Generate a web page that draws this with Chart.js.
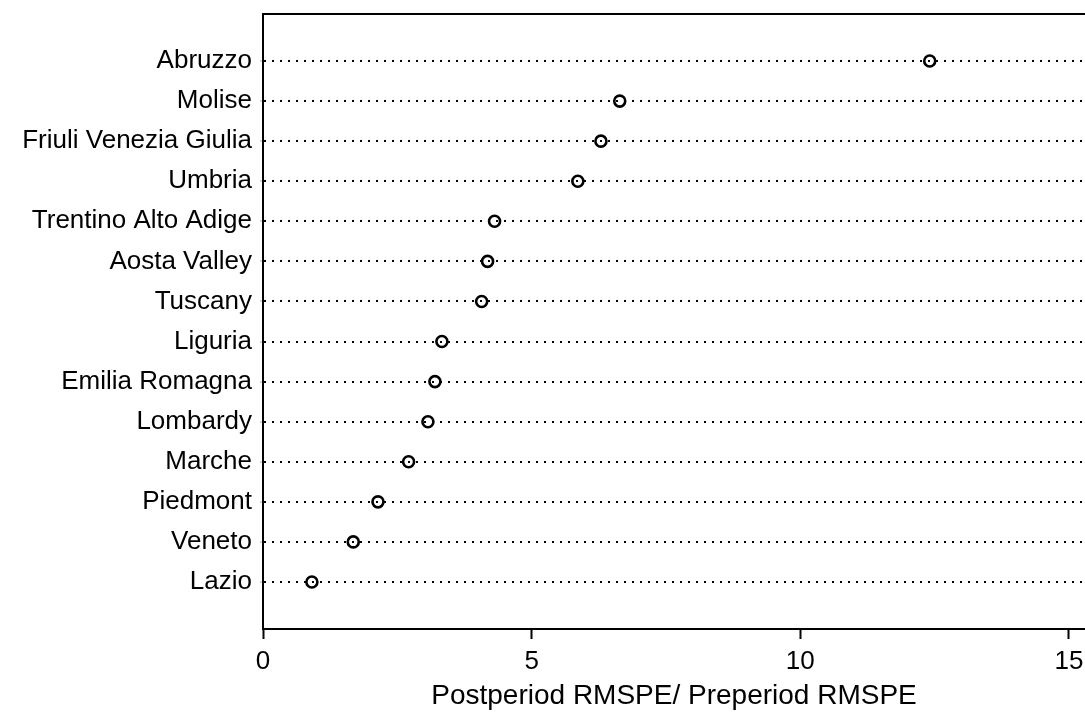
<!DOCTYPE html>
<html>
<head>
<meta charset="utf-8">
<script src="https://cdn.jsdelivr.net/npm/chart.js@4/dist/chart.umd.min.js"></script>
<style>
  html, body { margin: 0; padding: 0; background: #fff; overflow: hidden; }
  #wrap { width: 1085px; height: 713px; }
  #mychart { display: block; }
</style>
</head>
<body>
<div id="wrap"><canvas id="mychart" width="1085" height="713"></canvas></div>
<script>
//. regions, top to bottom
var regions = [ 'Abruzzo', 'Molise', 'Friuli Venezia Giulia', 'Umbria', 'Trentino Alto Adige',
  'Aosta Valley', 'Tuscany', 'Liguria', 'Emilia Romagna', 'Lombardy', 'Marche', 'Piedmont',
  'Veneto', 'Lazio' ];
var ratios = [ 12.41, 6.64, 6.29, 5.86, 4.31, 4.18, 4.07, 3.33, 3.20, 3.07, 2.71, 2.14, 1.68, 0.91 ];
var xTicks = [ 0, 5, 10, 15 ];

var FONT = '"Liberation Sans", Arial, Helvetica, sans-serif';
var n = regions.length;

var points = [];
for( var i = 0; i < n; i ++ ){
  points.push( { x: ratios[i], y: n - i } );
}

//. no extra label padding, the frame is fixed
function noPad( scale ){
  scale.paddingTop = 0;
  scale.paddingBottom = 0;
  scale.paddingLeft = 0;
  scale.paddingRight = 0;
}

var ctx = document.getElementById( 'mychart' );
var chart = new Chart( ctx, {
  type: 'scatter',
  data: {
    datasets: [
      {
        data: points,
        pointStyle: 'circle',
        pointRadius: 5.5,
        pointBorderWidth: 2.6,
        pointBorderColor: '#000',
        pointBackgroundColor: 'rgba( 0, 0, 0, 0 )',
        showLine: false
      }
    ]
  },
  options: {
    responsive: false,
    animation: false,
    layout: { padding: 0, autoPadding: false },
    plugins: {
      legend: { display: false },
      tooltip: { enabled: false }
    },
    scales: {
      x: {
        type: 'linear',
        position: 'bottom',
        min: 0,
        max: 15.3,
        afterBuildTicks: function( scale ){
          scale.ticks = xTicks.map( function( v ){ return { value: v }; } );
        },
        afterFit: function( scale ){ scale.height = 84; noPad( scale ); },
        border: { display: true, color: '#000', width: 2 },
        grid: { drawOnChartArea: false, drawTicks: true, tickLength: 10, tickColor: '#000', tickWidth: 2 },
        ticks: { color: '#000', padding: 7, font: { family: FONT, size: 26 }, maxRotation: 0 },
        title: {
          display: true,
          text: 'Postperiod RMSPE/ Preperiod RMSPE',
          color: '#000',
          padding: { top: 0, bottom: 0 },
          font: { family: FONT, size: 28 }
        }
      },
      xTop: {
        type: 'linear',
        position: 'top',
        min: 0,
        max: 15.3,
        afterFit: function( scale ){ scale.height = 14; noPad( scale ); },
        border: { display: true, color: '#000', width: 2 },
        grid: { display: false },
        ticks: { display: false }
      },
      y: {
        type: 'linear',
        min: 1 - 1.173,
        max: n + 1.173,
        afterBuildTicks: function( scale ){
          var t = [];
          for( var i = 1; i <= n; i ++ ){ t.push( { value: i } ); }
          scale.ticks = t;
        },
        afterFit: function( scale ){ scale.width = 263; noPad( scale ); },
        border: { display: true, color: '#000', width: 2, dash: [ 2, 6 ] },
        grid: {
          drawOnChartArea: true,
          color: '#000',
          lineWidth: 2,
          drawTicks: true,
          tickLength: 3,
          tickColor: '#aaa',
          tickWidth: 1,
          tickBorderDash: []
        },
        ticks: {
          color: '#000',
          padding: 8,
          font: { family: FONT, size: 26 },
          callback: function( v ){ return regions[ n - v ]; }
        }
      }
    }
  }
});
</script>
</body>
</html>
